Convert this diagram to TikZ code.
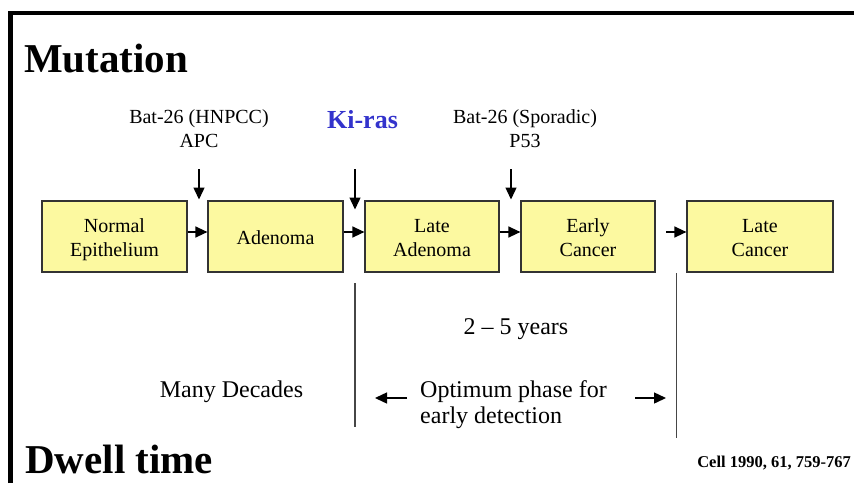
\documentclass[tikz,border=0pt]{standalone}
\usepackage{fontspec}
\setmainfont{Liberation Serif}
\usetikzlibrary{arrows.meta}
\definecolor{boxfill}{RGB}{252,249,160}
\definecolor{kiblue}{RGB}{51,51,204}
\definecolor{linegray}{RGB}{70,70,70}
\newcommand{\boxtext}[1]{\raisebox{-3pt}[\height][\depth]{\begin{tabular}{@{}c@{}}#1\end{tabular}}}
\begin{document}
\begin{tikzpicture}[x=1pt,y=-1pt,
  stagebox/.style={draw=black!80,line width=1.2pt,fill=boxfill,minimum width=#1,
    minimum height=71pt,inner sep=0pt,
    font=\fontsize{20}{24}\selectfont},
  flow/.style={-{Triangle[length=12pt,width=11pt]},line width=1.4pt},
  lbl/.style={anchor=base,inner sep=0pt,font=\fontsize{20}{24}\selectfont},
  lbig/.style={inner sep=0pt,font=\fontsize{24}{26}\selectfont},
  title/.style={anchor=base west,inner sep=0pt,font=\fontsize{41}{46}\selectfont\bfseries},
  divider/.style={draw=linegray,line width=1.3pt}]
\useasboundingbox (0,0) rectangle (854,483);
\fill[white] (0,0) rectangle (854,483);
% frame
\draw[line width=4.4pt,line join=miter] (10.5,483) -- (10.5,12.9) -- (854,12.9);
% titles
\node[title] (mut) at (24,72) {Mutation};
\node[title] (dwell) at (25,473) {Dwell time};
% boxes
\node[stagebox=145pt] (n1) at (114.5,236.5) {\boxtext{Normal\\Epithelium}};
\node[stagebox=135pt] (n2) at (275.5,236.5) {\boxtext{Adenoma}};
\node[stagebox=134pt] (n3) at (432,236.5) {\boxtext{Late\\Adenoma}};
\node[stagebox=134pt] (n4) at (588,236.5) {\boxtext{Early\\Cancer}};
\node[stagebox=146pt] (n5) at (760,236.5) {\boxtext{Late\\Cancer}};
% horizontal arrows
\draw[flow] ([yshift=4.5pt]n1.east) -- ([yshift=4.5pt]n2.west);
\draw[flow] ([yshift=4.5pt]n2.east) -- ([yshift=4.5pt]n3.west);
\draw[flow] ([yshift=4.5pt]n3.east) -- ([yshift=4.5pt]n4.west);
\coordinate (c45) at (666,232);
\draw[flow] (c45) -- ([yshift=4.5pt]n5.west);
% mutation labels
\node[lbl] (b1) at (199,123) {Bat-26 (HNPCC)};
\node[lbl] (apc) at (199,147) {APC};
\node[anchor=base,inner sep=0pt,font=\fontsize{26}{30}\selectfont\bfseries,text=kiblue] (kras) at (362.5,128) {Ki-ras};
\node[lbl] (b2) at (525,123) {Bat-26 (Sporadic)};
\node[lbl] (p53) at (525,147) {P53};
% mutation arrows
\coordinate (m1a) at (199,169); \coordinate (m1b) at (199,199.5);
\coordinate (m2a) at (355,169); \coordinate (m2b) at (355,209.5);
\coordinate (m3a) at (511,169); \coordinate (m3b) at (511,199.5);
\draw[flow] (m1a) -- (m1b);
\draw[flow] (m2a) -- (m2b);
\draw[flow] (m3a) -- (m3b);
% dividers
\coordinate (d1a) at (355,283); \coordinate (d1b) at (355,427);
\coordinate (d2a) at (676.5,273); \coordinate (d2b) at (676.5,438);
\draw[divider] (d1a) -- (d1b);
\draw[divider] (d2a) -- (d2b);
% dwell texts
\node[lbig,anchor=base] (yrs) at (516,334) {2 -- 5 years};
\node[lbig,anchor=base] (many) at (231.5,397) {Many Decades};
\node[lbig,anchor=base west] (opt1) at (420,397) {Optimum phase for};
\node[lbig,anchor=base west] (opt2) at (420,423) {early detection};
\coordinate (la) at (407,398); \coordinate (lb) at (375,398);
\coordinate (ra) at (635,398); \coordinate (rb) at (666,398);
\draw[flow] (la) -- (lb);
\draw[flow] (ra) -- (rb);
% citation
\node[anchor=base east,inner sep=0pt,font=\fontsize{16.5}{18}\selectfont\bfseries] (cite) at (851,467) {Cell 1990, 61, 759-767};
\end{tikzpicture}
\end{document}
